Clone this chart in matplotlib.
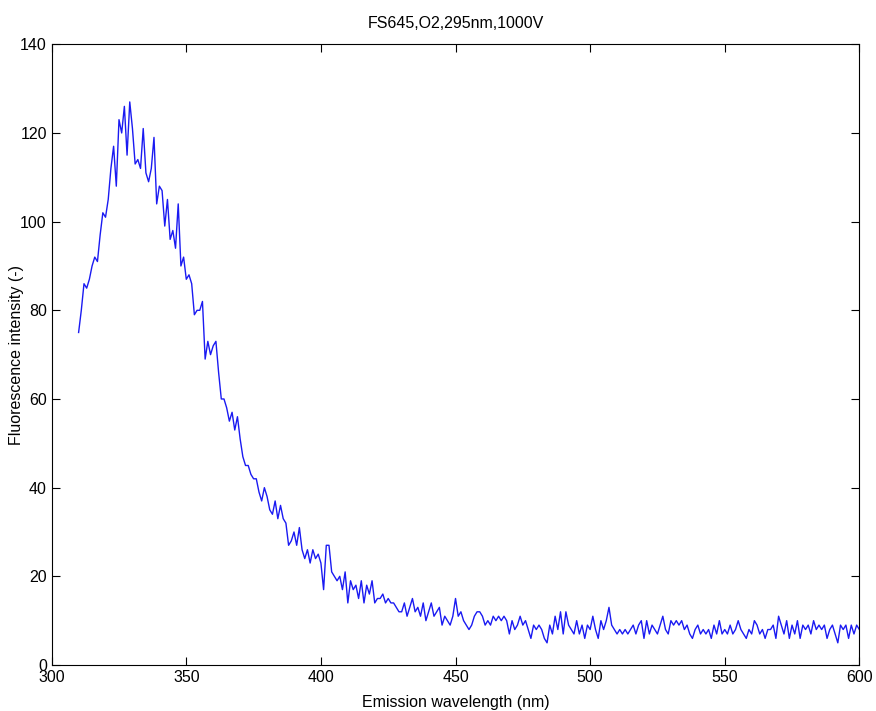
import numpy as np
import matplotlib.pyplot as plt

plt.rcParams['font.family'] = ['Liberation Sans', 'DejaVu Sans']

# wavelength (nm), 1 nm steps from 310 to 600
wavelength = np.arange(310, 601)

# intensity
intensidade_pico = [
    75, 80, 86, 85, 87, 90, 92, 91, 97, 102,
    101, 105, 112, 117, 108, 123, 120, 126, 115, 127,
    121, 113, 114, 112, 121, 111, 109, 112, 119, 104,
    108, 107, 99, 105, 96, 98, 94, 104, 90, 92,
    87, 88, 86, 79, 80, 80, 82, 69, 73, 70,
    72, 73, 66, 60, 60, 58, 55, 57, 53, 56,
    51, 47, 45, 45, 43, 42, 42, 39, 37, 40,
    38, 35, 34, 37, 33, 36, 33, 32, 27, 28,
    30, 27, 31, 26, 24, 26, 23, 26, 24, 25,
    23, 17, 27, 27, 21, 20, 19, 20, 17, 21,
    14, 19, 17, 18, 15, 19, 14, 18, 16, 19,
    14, 15, 15, 16, 14, 15, 14, 14, 13, 12,
]
intensidade_cauda = [
    12, 14, 11, 13, 15, 12, 13, 11, 14, 10,
    12, 14, 11, 12, 13, 9, 11, 10, 9, 11,
    15, 11, 12, 10, 9, 8, 9, 11, 12, 12,
    11, 9, 10, 9, 11, 10, 11, 10, 11, 10,
    7, 10, 8, 9, 11, 9, 10, 8, 6, 9,
    8, 9, 8, 6, 5, 9, 7, 11, 8, 12,
    7, 12, 9, 8, 7, 10, 7, 9, 6, 9,
    8, 11, 8, 6, 10, 8, 10, 13, 9, 8,
    7, 8, 7, 8, 7, 8, 9, 7, 9, 10,
    6, 10, 7, 9, 8, 7, 9, 11, 8, 7,
    10, 9, 10, 9, 10, 8, 9, 7, 6, 8,
    9, 7, 8, 7, 8, 6, 9, 7, 10, 7,
    8, 7, 9, 7, 8, 10, 8, 7, 6, 8,
    7, 10, 9, 7, 8, 6, 8, 8, 9, 6,
    11, 9, 7, 10, 6, 9, 7, 10, 6, 9,
    8, 9, 7, 10, 8, 9, 8, 9, 6, 8,
    9, 7, 5, 9, 8, 9, 6, 9, 7, 9,
    8,
]
intensidade = intensidade_pico + intensidade_cauda

fig = plt.figure(figsize=(8.76, 7.11), dpi=100)
ax = fig.add_axes([0.059, 0.0647, 0.922, 0.873])

ax.plot(wavelength, intensidade, color=(0.1, 0.1, 0.95), linewidth=1.0)

ax.set_xlim(300, 600)
ax.set_ylim(0, 140)
ax.set_xticks(np.arange(300, 601, 50))
ax.set_yticks(np.arange(0, 141, 20))
ax.tick_params(direction='in', top=True, right=True, labelsize=11.5, length=6, width=0.8)
for s in ax.spines.values():
    s.set_linewidth(0.8)

ax.set_title("FS645,O2,295nm,1000V", fontsize=11.5, pad=12)
ax.set_xlabel("Emission wavelength (nm)", fontsize=11.5, labelpad=7)
ax.set_ylabel("Fluorescence intensity (-)", fontsize=11.5)
ax.yaxis.set_label_coords(-0.034, 0.5)

fig.savefig("out.png", dpi=100)
